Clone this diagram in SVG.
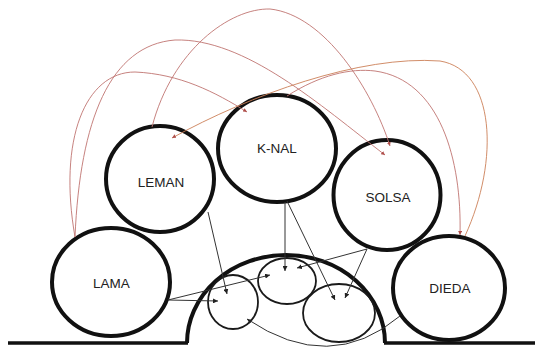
<svg xmlns="http://www.w3.org/2000/svg" width="535" height="351" viewBox="0 0 535 351">
<defs>
<style>
.big{fill:none;stroke:#111;stroke-width:4}
.small{fill:none;stroke:#1a1a1a;stroke-width:1.8}
.lbl{font-family:"Liberation Sans",Arial,sans-serif;font-size:13.5px;fill:#222;text-anchor:middle}
.blk{fill:none;stroke:#333;stroke-width:1;marker-end:url(#ab)}
.red{fill:none;stroke:#c07470;stroke-width:0.9;marker-end:url(#ar)}
.org{fill:none;stroke:#cc8058;stroke-width:0.9;marker-end:url(#ar)}
.ground{fill:none;stroke:#111;stroke-width:3.5}
</style>
<marker id="ab" viewBox="0 0 6 6" refX="6" refY="3" markerWidth="5" markerHeight="5" markerUnits="userSpaceOnUse" orient="auto"><path d="M0,0 L6,3 L0,6 z" fill="#222"/></marker>
<marker id="ar" viewBox="0 0 6 6" refX="6" refY="3" markerWidth="4" markerHeight="4" markerUnits="userSpaceOnUse" orient="auto"><path d="M0,0 L6,3 L0,6 z" fill="#b0504c"/></marker>
</defs>
<rect width="535" height="351" fill="#fff"/>
<g id="ground">
<path class="ground" d="M8,343 H188"/>
<path class="ground" d="M384,343 H535"/>
</g>
<g id="dome"><path class="big" d="M187,343 A 99,88 0 0 1 385,343"/></g>
<g id="inner1"><ellipse class="small" cx="233" cy="302" rx="25" ry="27"/></g>
<g id="inner2"><ellipse class="small" cx="287" cy="281" rx="29" ry="23"/></g>
<g id="inner3"><ellipse class="small" cx="339" cy="313" rx="36" ry="29"/></g>
<g id="LEMAN"><ellipse class="big" cx="160" cy="179" rx="54" ry="53"/><text class="lbl" x="161" y="187">LEMAN</text></g>
<g id="K-NAL"><ellipse class="big" cx="277" cy="148.5" rx="59" ry="53.5"/><text class="lbl" x="277" y="153">K-NAL</text></g>
<g id="SOLSA"><ellipse class="big" cx="387" cy="195" rx="53.5" ry="55"/><text class="lbl" x="388" y="202">SOLSA</text></g>
<g id="LAMA"><ellipse class="big" cx="111" cy="282" rx="59" ry="54"/><text class="lbl" x="111.5" y="288">LAMA</text></g>
<g id="DIEDA"><ellipse class="big" cx="449" cy="288" rx="56" ry="52"/><text class="lbl" x="450" y="293">DIEDA</text></g>
<g id="connectors">
<path class="blk" d="M208,212 L227,294"/>
<path class="blk" d="M168,300 L218,301"/>
<path class="blk" d="M168,300 L270,275"/>
<path class="blk" d="M285,202 L285,271"/>
<path class="blk" d="M287,201 L335,300"/>
<path class="blk" d="M367,249 L297,268"/>
<path class="blk" d="M367,249 L345,298"/>
<path class="blk" d="M400,316 Q 330,375 247,319"/>
<path class="red" d="M75,237 C 58,140 85,72 135,72 C 180,74 215,92 247,112"/>
<path class="red" d="M75,237 C 80,120 110,45 175,40 C 245,38 320,105 385,155"/>
<path class="red" d="M152,127 C 172,50 230,8 270,9 C 325,15 372,90 390,146"/>
<path class="org" d="M465,236 C 500,160 495,70 440,61 C 360,55 250,95 172,138"/>
<path class="red" d="M287,96 C 320,75 350,68 375,71 C 440,80 462,160 460,235"/>
</g>
</svg>
